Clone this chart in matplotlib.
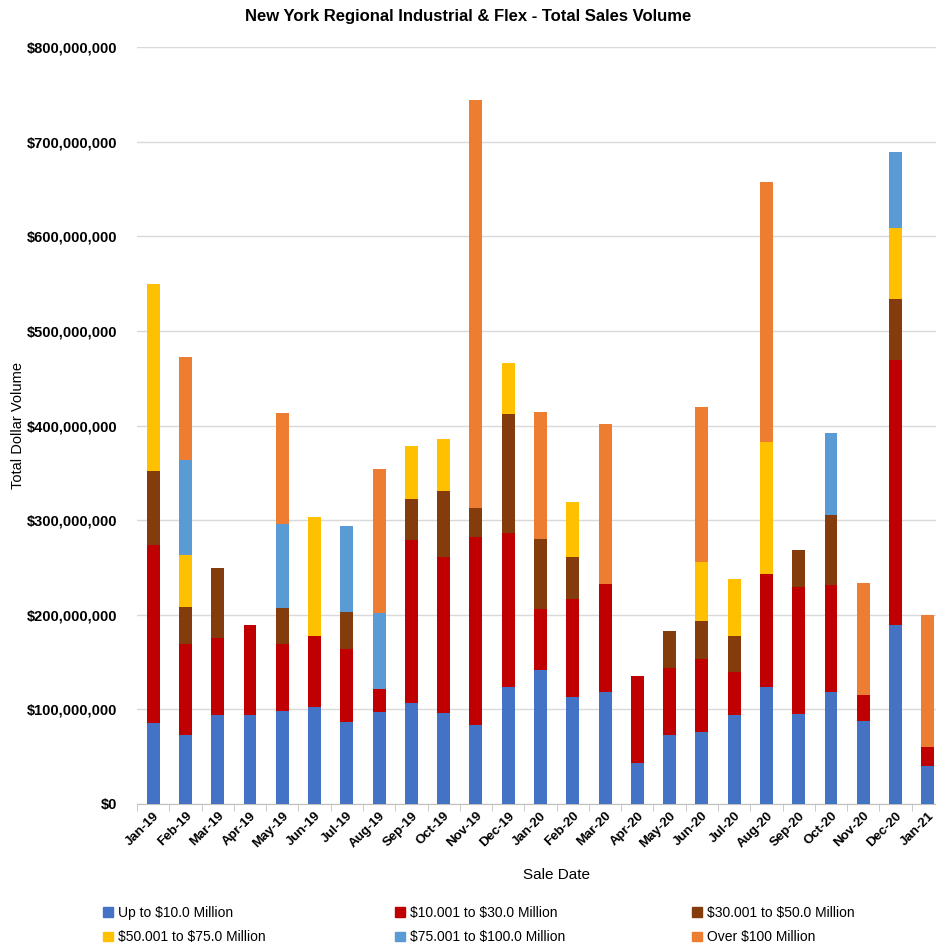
import numpy as np
import matplotlib.pyplot as plt
from matplotlib.patches import Patch

plt.rcParams['font.family'] = ['Liberation Sans', 'DejaVu Sans']

# months on the x axis
months = ["Jan-19", "Feb-19", "Mar-19", "Apr-19", "May-19", "Jun-19", "Jul-19",
          "Aug-19", "Sep-19", "Oct-19", "Nov-19", "Dec-19", "Jan-20", "Feb-20",
          "Mar-20", "Apr-20", "May-20", "Jun-20", "Jul-20", "Aug-20", "Sep-20",
          "Oct-20", "Nov-20", "Dec-20", "Jan-21"]

# sales volume per deal size band, in millions of dollars
up_to_10 = [86, 73, 94, 94.5, 98, 103, 87, 97, 107, 96, 83.5, 124, 142, 113,
            118, 43, 73, 75.6, 94, 124, 95, 118.6, 88, 189, 40]
from_10_to_30 = [188, 96, 81, 95, 71, 75, 77, 25, 172, 165, 199, 162.6, 64.6, 104,
                 114, 92, 71, 77.4, 45, 119, 134, 113, 27, 280, 20]
from_30_to_50 = [78, 39, 74, 0, 38, 0, 38.5, 0, 43, 70, 30, 125.3, 73.8, 44,
                 0, 0, 39, 40, 39, 0, 39, 74, 0, 65, 0]
from_50_to_75 = [198, 55, 0, 0, 0, 125.5, 0, 0, 56, 55, 0, 53.8, 0, 58,
                 0, 0, 0, 62.5, 60, 140, 0, 0, 0, 75, 0]
from_75_to_100 = [0, 101, 0, 0, 89, 0, 91.5, 80, 0, 0, 0, 0, 0, 0,
                  0, 0, 0, 0, 0, 0, 0, 86, 0, 80, 0]
over_100 = [0, 108, 0, 0, 117, 0, 0, 152, 0, 0, 431.6, 0, 133.5, 0,
            170, 0, 0, 164, 0, 274, 0, 0, 119, 0, 140]

series = [
    (r"Up to \$10.0 Million", up_to_10, "#4472C4"),
    (r"\$10.001 to \$30.0 Million", from_10_to_30, "#C00000"),
    (r"\$30.001 to \$50.0 Million", from_30_to_50, "#843C0C"),
    (r"\$50.001 to \$75.0 Million", from_50_to_75, "#FFC000"),
    (r"\$75.001 to \$100.0 Million", from_75_to_100, "#5B9BD5"),
    (r"Over \$100 Million", over_100, "#ED7D31"),
]

W, H = 936, 944
fig = plt.figure(figsize=(W / 100, H / 100), dpi=100)
ax = fig.add_axes([137 / W, (H - 804) / H, (944 - 137) / W, 757 / H])

x = np.arange(len(months))
bottom = np.zeros(len(months))
handles = []
for label, vals, color in series:
    vals = np.array(vals) * 1e6
    ax.bar(x, vals, width=0.4, bottom=bottom, color=color, zorder=3)
    bottom += vals
    handles.append(Patch(color=color, label=label))

ax.set_xlim(-0.5, len(months) - 0.5)
ax.set_ylim(0, 800e6)
yt = np.arange(0, 800e6 + 1, 100e6)
ax.set_yticks(yt)
ax.set_yticklabels([f"${v:,.0f}" for v in yt], fontsize=10.5, fontweight="bold")
ax.grid(axis="y", color="#D9D9D9", linewidth=1, zorder=0)
ax.tick_params(axis="y", length=0, pad=14)

ax.set_xticks(x)
ax.set_xticklabels(months, rotation=45, fontsize=9.5, fontweight="bold",
                   ha="right", rotation_mode="anchor")
ax.set_xticks(np.arange(-0.5, len(months), 1), minor=True)
ax.tick_params(axis="x", which="major", length=0, pad=4)
ax.tick_params(axis="x", which="minor", length=5, color="#BFBFBF")

for side in ["top", "right", "left"]:
    ax.spines[side].set_visible(False)
ax.spines["bottom"].set_color("#BFBFBF")

ax.set_xlabel("Sale Date", fontsize=11)
ax.xaxis.set_label_coords(0.52, -0.085)
ax.set_ylabel("Total Dollar Volume", fontsize=10.5, va="center")
ax.yaxis.set_label_coords((18 - 137) / 807, 0.5)

fig.text(468 / W, 1 - 17 / H, "New York Regional Industrial & Flex - Total Sales Volume",
         ha="center", va="center", fontsize=12, fontweight="bold")

# legend in three columns of two rows
for col, xpos in enumerate([103, 395, 692]):
    fig.legend(handles=handles[col::3], loc="upper left",
               bbox_to_anchor=(xpos / W, 1 - 906 / H), frameon=False,
               fontsize=10, handlelength=0.7, handleheight=0.7,
               handletextpad=0.4, labelspacing=0.75, borderaxespad=0,
               borderpad=0)

fig.savefig("out.png", dpi=100)
